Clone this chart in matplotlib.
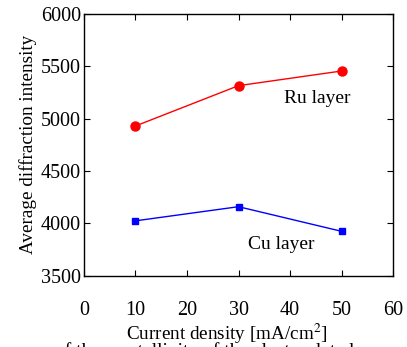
import matplotlib
matplotlib.use("Agg")
import matplotlib.pyplot as plt

# current density [mA/cm2]
current = [10, 30, 50]
ru_layer = [4930, 5315, 5455]
cu_layer = [4025, 4160, 3925]

plt.rcParams['font.family'] = ['Liberation Serif', 'DejaVu Serif']
plt.rcParams['mathtext.fontset'] = 'stix'

fig = plt.figure(figsize=(4.07, 3.47), dpi=100)
ax = fig.add_axes([0.206, 0.205, 0.76, 0.755])

ax.plot(current, ru_layer, color='red', marker='o', markersize=6.5, linewidth=1)
ax.plot(current, cu_layer, color='blue', marker='s', markersize=5, linewidth=1)

ax.text(45.2, 5190, 'Ru layer', ha='center', va='center', fontsize=14)
ax.text(38.2, 3800, 'Cu layer', ha='center', va='center', fontsize=14)

ax.set_xlim(0, 60)
ax.set_ylim(3500, 6000)
ax.set_xticks([0, 10, 20, 30, 40, 50, 60])
ax.set_yticks([3500, 4000, 4500, 5000, 5500, 6000])
ax.tick_params(axis='x', direction='in', top=True, length=4, pad=18, labelsize=14.5)
ax.tick_params(axis='y', direction='in', right=True, length=4, pad=2, labelsize=14.5)
for s in ax.spines.values():
    s.set_linewidth(1)

ax.set_ylabel('Average diffraction intensity', fontsize=13.8, labelpad=3)
fig.text(0.558, 0.038, 'Current density [mA/cm$^2$]', ha='center', va='center',
         fontsize=13.8)

# caption of the source page, cut off at the bottom edge
fig.text(0.135, 0.014, 'of the crystallinity of the electroplated', ha='left',
         va='top', fontsize=14)

fig.savefig('out.png', dpi=100)
